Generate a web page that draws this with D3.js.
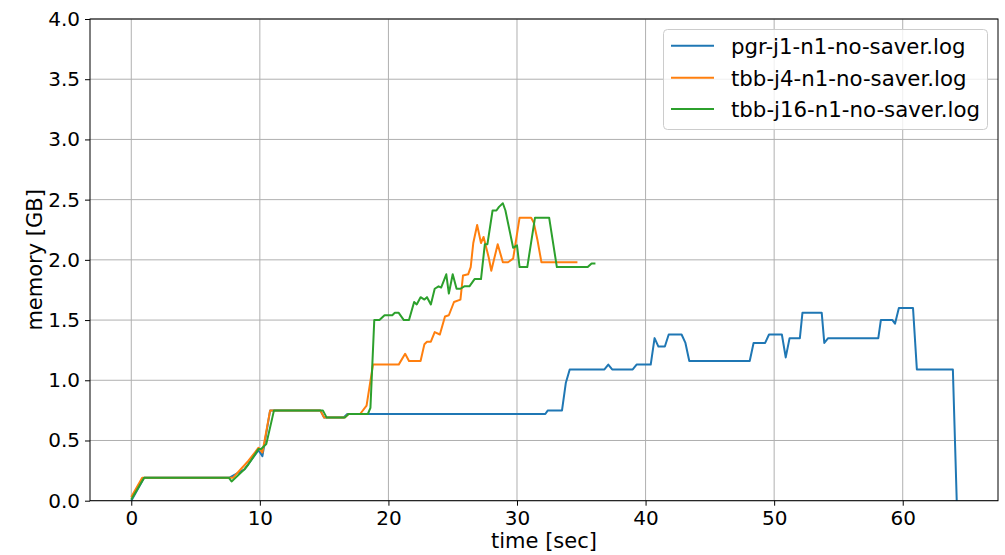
<!DOCTYPE html>
<html>
<head>
<meta charset="utf-8">
<script src="https://cdn.jsdelivr.net/npm/d3@7"></script>
<style>
  body { margin: 0; background: #fff; }
  svg { font-family: "DejaVu Sans", sans-serif; }
</style>
</head>
<body>
<svg width="1005" height="555"></svg>
<script>
// series data (time in sec, memory in GB)
const pgrTime = [0, 1.0, 7.6, 8.8, 9.9, 10.2, 10.8, 14.7, 15.0, 16.5, 16.8, 32.2, 32.4, 33.5, 33.8, 34.1, 36.8, 37.1, 37.4, 39.0, 39.3, 40.4, 40.7, 41.0, 41.5, 41.8, 42.8, 43.1, 43.4, 48.1, 48.4, 49.3, 49.6, 50.6, 50.9, 51.2, 52.0, 52.2, 53.7, 53.9, 54.2, 58.1, 58.3, 59.2, 59.4, 59.7, 60.8, 61.1, 63.9, 64.2];
const pgrMem = [0, 0.19, 0.19, 0.26, 0.42, 0.37, 0.75, 0.75, 0.69, 0.69, 0.72, 0.72, 0.75, 0.75, 0.98, 1.09, 1.09, 1.13, 1.09, 1.09, 1.13, 1.13, 1.35, 1.28, 1.28, 1.38, 1.38, 1.31, 1.16, 1.16, 1.31, 1.31, 1.38, 1.38, 1.19, 1.35, 1.35, 1.56, 1.56, 1.31, 1.35, 1.35, 1.50, 1.50, 1.47, 1.60, 1.60, 1.09, 1.09, 0];

const tbb4Time = [0, 0.85, 7.9, 9.1, 9.9, 10.2, 10.8, 14.7, 15.0, 16.6, 16.9, 17.8, 18.3, 18.8, 20.8, 21.3, 21.6, 22.5, 22.8, 23.0, 23.3, 23.6, 24.0, 24.4, 24.7, 25.1, 25.6, 25.8, 26.2, 26.4, 26.6, 26.9, 27.2, 27.4, 27.8, 28.0, 28.5, 28.9, 29.3, 29.7, 30.2, 31.1, 31.3, 31.6, 31.9, 34.7];
const tbb4Mem = [0.03, 0.19, 0.19, 0.33, 0.44, 0.40, 0.75, 0.75, 0.69, 0.69, 0.72, 0.72, 0.79, 1.13, 1.13, 1.22, 1.16, 1.16, 1.30, 1.32, 1.32, 1.40, 1.38, 1.53, 1.54, 1.65, 1.67, 1.87, 1.88, 1.94, 2.14, 2.29, 2.14, 2.19, 2.02, 1.91, 2.13, 1.98, 1.98, 2.01, 2.35, 2.35, 2.31, 2.16, 1.98, 1.98];

const tbb16Time = [0, 1.0, 7.6, 7.8, 8.8, 9.1, 9.9, 10.1, 10.5, 11.1, 14.9, 15.2, 16.6, 16.9, 18.4, 18.6, 18.9, 19.3, 19.7, 20.3, 20.5, 20.8, 21.2, 21.6, 22.0, 22.2, 22.5, 22.8, 23.0, 23.3, 23.6, 23.9, 24.1, 24.5, 24.7, 25.0, 25.3, 25.6, 25.9, 26.3, 26.7, 27.2, 27.5, 27.7, 28.1, 28.4, 28.6, 28.9, 29.1, 29.7, 30.0, 30.2, 30.8, 31.4, 32.5, 33.1, 35.5, 35.8, 36.1];
const tbb16Mem = [0.01, 0.19, 0.19, 0.16, 0.26, 0.30, 0.43, 0.43, 0.47, 0.75, 0.75, 0.69, 0.69, 0.72, 0.72, 0.77, 1.50, 1.50, 1.54, 1.54, 1.56, 1.56, 1.50, 1.50, 1.65, 1.63, 1.69, 1.67, 1.69, 1.63, 1.76, 1.78, 1.77, 1.88, 1.72, 1.88, 1.76, 1.76, 1.78, 1.78, 1.84, 1.84, 2.13, 2.13, 2.41, 2.41, 2.44, 2.47, 2.41, 2.10, 2.12, 1.94, 1.94, 2.35, 2.35, 1.94, 1.94, 1.97, 1.97];

const seriesNames = ['pgr-j1-n1-no-saver.log', 'tbb-j4-n1-no-saver.log', 'tbb-j16-n1-no-saver.log'];
const seriesColors = ['#1f77b4', '#ff7f0e', '#2ca02c'];
const xTicks = [0, 10, 20, 30, 40, 50, 60];
const yTicks = [0, 0.5, 1.0, 1.5, 2.0, 2.5, 3.0, 3.5, 4.0];

const series = [
  {name: seriesNames[0], color: seriesColors[0], t: pgrTime, m: pgrMem},
  {name: seriesNames[1], color: seriesColors[1], t: tbb4Time, m: tbb4Mem},
  {name: seriesNames[2], color: seriesColors[2], t: tbb16Time, m: tbb16Mem}
];

const svg = d3.select('svg');
const plotL = 90, plotR = 998, plotT = 19, plotB = 500.7;

// matplotlib-like 5% margins on x
const xMax = 64.2, pad = xMax * 0.05;
const x = d3.scaleLinear().domain([-pad, xMax + pad]).range([plotL, plotR]);
const y = d3.scaleLinear().domain([0, 4]).range([plotB, plotT]);

// grid
svg.append('g').selectAll('line').data(xTicks).enter().append('line')
  .attr('x1', d => x(d)).attr('x2', d => x(d))
  .attr('y1', plotT).attr('y2', plotB)
  .attr('stroke', '#b0b0b0').attr('stroke-width', 1);
svg.append('g').selectAll('line').data(yTicks).enter().append('line')
  .attr('x1', plotL).attr('x2', plotR)
  .attr('y1', d => y(d)).attr('y2', d => y(d))
  .attr('stroke', '#b0b0b0').attr('stroke-width', 1);

// lines
const line = d3.line().x(d => x(d[0])).y(d => y(d[1]));
series.forEach(s => {
  svg.append('path')
    .datum(s.t.map((t, i) => [t, s.m[i]]))
    .attr('d', line)
    .attr('fill', 'none')
    .attr('stroke', s.color)
    .attr('stroke-width', 2)
    .attr('stroke-linejoin', 'round');
});

// axes
const xAxis = svg.append('g').attr('transform', `translate(0,${plotB})`)
  .call(d3.axisBottom(x).tickValues(xTicks).tickFormat(d3.format('d')).tickSizeOuter(0).tickSize(5).tickPadding(5));
const yAxis = svg.append('g').attr('transform', `translate(${plotL},0)`)
  .call(d3.axisLeft(y).tickValues(yTicks).tickFormat(d3.format('.1f')).tickSizeOuter(0).tickSize(5).tickPadding(5));
[xAxis, yAxis].forEach(a => {
  a.selectAll('text').attr('font-size', 20).attr('fill', '#000').attr('font-family', 'DejaVu Sans');
  a.selectAll('line').attr('stroke', '#000');
  a.select('.domain').remove();
});

// frame
svg.append('rect')
  .attr('x', plotL).attr('y', plotT)
  .attr('width', plotR - plotL).attr('height', plotB - plotT)
  .attr('fill', 'none').attr('stroke', '#000').attr('stroke-width', 1);

// axis labels
svg.append('text')
  .attr('x', (plotL + plotR) / 2).attr('y', 548)
  .attr('text-anchor', 'middle').attr('font-size', 21)
  .text('time [sec]');
svg.append('text')
  .attr('transform', `translate(42,${(plotT + plotB) / 2}) rotate(-90)`)
  .attr('text-anchor', 'middle').attr('font-size', 21)
  .text('memory [GB]');

// legend
const legend = svg.append('g');
legend.append('rect')
  .attr('x', 663.5).attr('y', 29.5).attr('width', 324).attr('height', 100)
  .attr('rx', 4)
  .attr('fill', 'rgba(255,255,255,0.8)').attr('stroke', '#cccccc').attr('stroke-width', 1);
const ly = [45.7, 77.7, 109];
series.forEach((s, i) => {
  legend.append('line')
    .attr('x1', 671).attr('x2', 714)
    .attr('y1', ly[i]).attr('y2', ly[i])
    .attr('stroke', s.color).attr('stroke-width', 2);
  legend.append('text')
    .attr('x', 731).attr('y', ly[i]).attr('dy', '0.38em')
    .attr('font-size', 21.3)
    .text(s.name);
});
</script>
</body>
</html>
